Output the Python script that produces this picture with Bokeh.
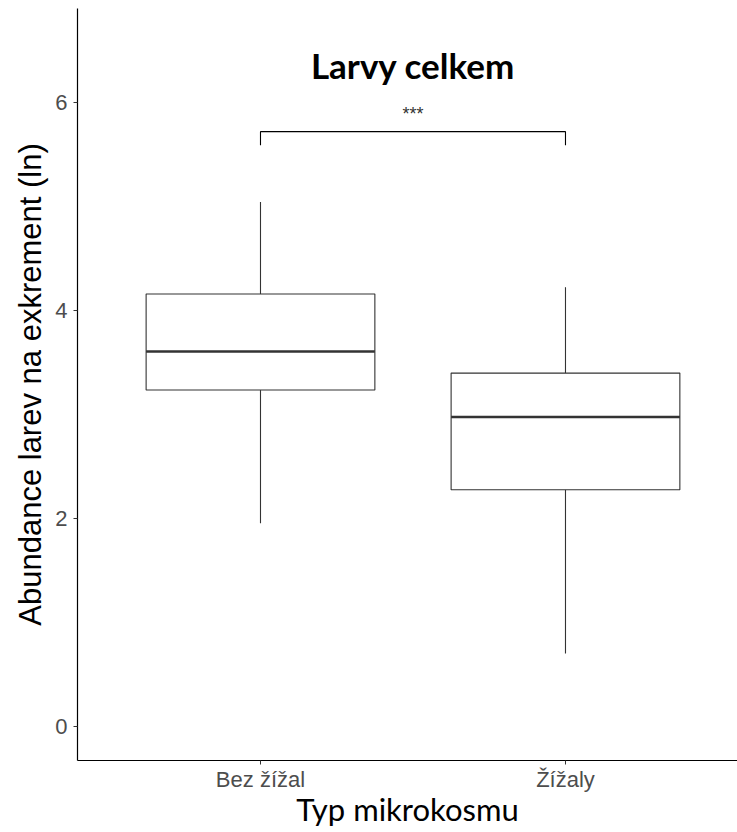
from bokeh.plotting import figure
from bokeh.models import FixedTicker, Range1d, ColumnDataSource
from bokeh.core.properties import value
from bokeh.embed import file_html
from bokeh.resources import INLINE

# ---- data ----
categories = ["Bez žížal", "Žížaly"]
cat_x = [1, 2]
lower_whisker = [1.955, 0.703]
q1 = [3.235, 2.277]
median = [3.606, 2.976]
q3 = [4.159, 3.398]
upper_whisker = [5.043, 4.224]
y_ticks = [0, 2, 4, 6]

bracket_y = 5.72
bracket_tip = 5.59
signif_label = "***"
signif_y = 5.89
title_text = "Larvy celkem"
title_y = 6.36
x_label = "Typ mikrokosmu"
y_label = "Abundance larev na exkrement (ln)"

box_width = 0.75

# ---- figure ----
p = figure(width=737, height=832, output_backend="svg", toolbar_location=None,
           x_range=Range1d(0.4, 2.564), y_range=Range1d(-0.327, 6.904),
           min_border_left=77, min_border_top=8, min_border_right=0, min_border_bottom=72)
p.outline_line_color = None
p.xgrid.visible = False
p.ygrid.visible = False
p.background_fill_color = "white"
p.border_fill_color = "white"

src = ColumnDataSource(dict(
    x=cat_x,
    left=[c - box_width / 2 for c in cat_x],
    right=[c + box_width / 2 for c in cat_x],
    lw=lower_whisker, q1=q1, med=median, q3=q3, uw=upper_whisker,
))

box_col = "#333333"
p.segment(x0="x", y0="q3", x1="x", y1="uw", source=src, line_color=box_col, line_width=1.1)
p.segment(x0="x", y0="q1", x1="x", y1="lw", source=src, line_color=box_col, line_width=1.1)
p.quad(left="left", right="right", bottom="q1", top="q3", source=src,
       fill_color="white", line_color=box_col, line_width=1.1)
p.segment(x0="left", y0="med", x1="right", y1="med", source=src, line_color=box_col, line_width=2.4)

# significance bracket
p.line(x=[cat_x[0], cat_x[0], cat_x[1], cat_x[1]],
       y=[bracket_tip, bracket_y, bracket_y, bracket_tip],
       line_color="black", line_width=1.1)
p.text(x=[sum(cat_x) / 2], y=[signif_y], text=[signif_label], text_align="center",
       text_baseline="alphabetic", text_font=value("Liberation Sans"),
       text_font_size="18px", text_color="#333333")

# title inside plot
p.text(x=[sum(cat_x) / 2], y=[title_y], text=[title_text], text_align="center",
       text_baseline="alphabetic", text_font=value("Lato"), text_font_style="bold",
       text_font_size="35px", text_color="black")

# axes
for ax in (p.xaxis[0], p.yaxis[0]):
    ax.axis_line_color = "black"
    ax.axis_line_width = 1.2
    ax.major_tick_line_color = "#333333"
    ax.major_tick_line_width = 1
    ax.major_tick_out = 4
    ax.major_tick_in = 0
    ax.minor_tick_line_color = None
    ax.major_label_text_color = "#4D4D4D"
    ax.major_label_text_font = "Liberation Sans"
    ax.major_label_text_font_size = "22px"

p.xaxis.ticker = FixedTicker(ticks=cat_x)
p.xaxis.major_label_overrides = {c: lab for c, lab in zip(cat_x, categories)}
p.xaxis.major_label_standoff = 2
p.xaxis.axis_label = x_label
p.xaxis.axis_label_text_font = "Lato"
p.xaxis.axis_label_text_font_style = "normal"
p.xaxis.axis_label_text_font_size = "31px"
p.xaxis.axis_label_text_color = "black"
p.xaxis.axis_label_standoff = -5

p.yaxis.ticker = FixedTicker(ticks=y_ticks)
p.yaxis.major_label_standoff = 6
p.yaxis.axis_label = y_label
p.yaxis.axis_label_text_font = "Liberation Sans"
p.yaxis.axis_label_text_font_style = "normal"
p.yaxis.axis_label_text_font_size = "31px"
p.yaxis.axis_label_text_color = "black"
p.yaxis.axis_label_standoff = 4

open("out.html", "w").write(file_html(p, INLINE))
